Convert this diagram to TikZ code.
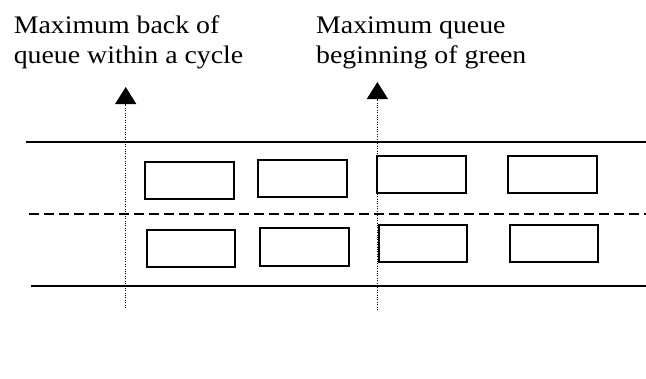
\documentclass[tikz,border=0pt]{standalone}
\usepackage{fontspec}
\setmainfont{Liberation Serif}[FakeStretch=1.1]
\usetikzlibrary{arrows.meta}
\begin{document}
\begin{tikzpicture}[x=1pt,y=-1pt,
  car/.style={draw, line width=2pt, minimum width=88.5pt, minimum height=37.5pt, inner sep=0pt, outer sep=0pt},
  road/.style={line width=1.5pt},
  lane/.style={line width=1.6pt, dash pattern=on 10pt off 5pt},
  marker/.style={line width=1.2pt, dash pattern=on 1.1pt off 1.3pt, -{Triangle[width=21pt,length=17pt]}},
  label/.style={font=\fontsize{25.3pt}{30pt}\selectfont, align=left, anchor=base west, inner sep=0pt}]
\useasboundingbox (0,0) rectangle (646,378);
% road
\draw[road] (25.5,142) -- (646,142);
\draw[lane] (29,213.7) -- (646,213.7);
\draw[road] (31,286) -- (646,286);
% vehicles
\node[car] (t1) at (189.3,180.4) {};
\node[car] (t2) at (302.3,178.5) {};
\node[car] (t3) at (421.7,174.7) {};
\node[car] (t4) at (552.3,174.7) {};
\node[car] (b1) at (190.9,248.7) {};
\node[car] (b2) at (304.3,247) {};
\node[car] (b3) at (423.2,243.5) {};
\node[car] (b4) at (554.2,243.5) {};
% markers
\coordinate (l0) at (125.7,308);
\coordinate (l1) at (125.7,87);
\coordinate (r0) at (377.4,310);
\coordinate (r1) at (377.4,82);
\draw[marker] (l0) -- (l1);
\draw[marker] (r0) -- (r1);
% labels
\node[label] (lt) at (13.6,63) {Maximum back of\\queue within a cycle};
\node[label] (rt) at (316,63) {Maximum queue\\beginning of green};
\end{tikzpicture}
\end{document}
